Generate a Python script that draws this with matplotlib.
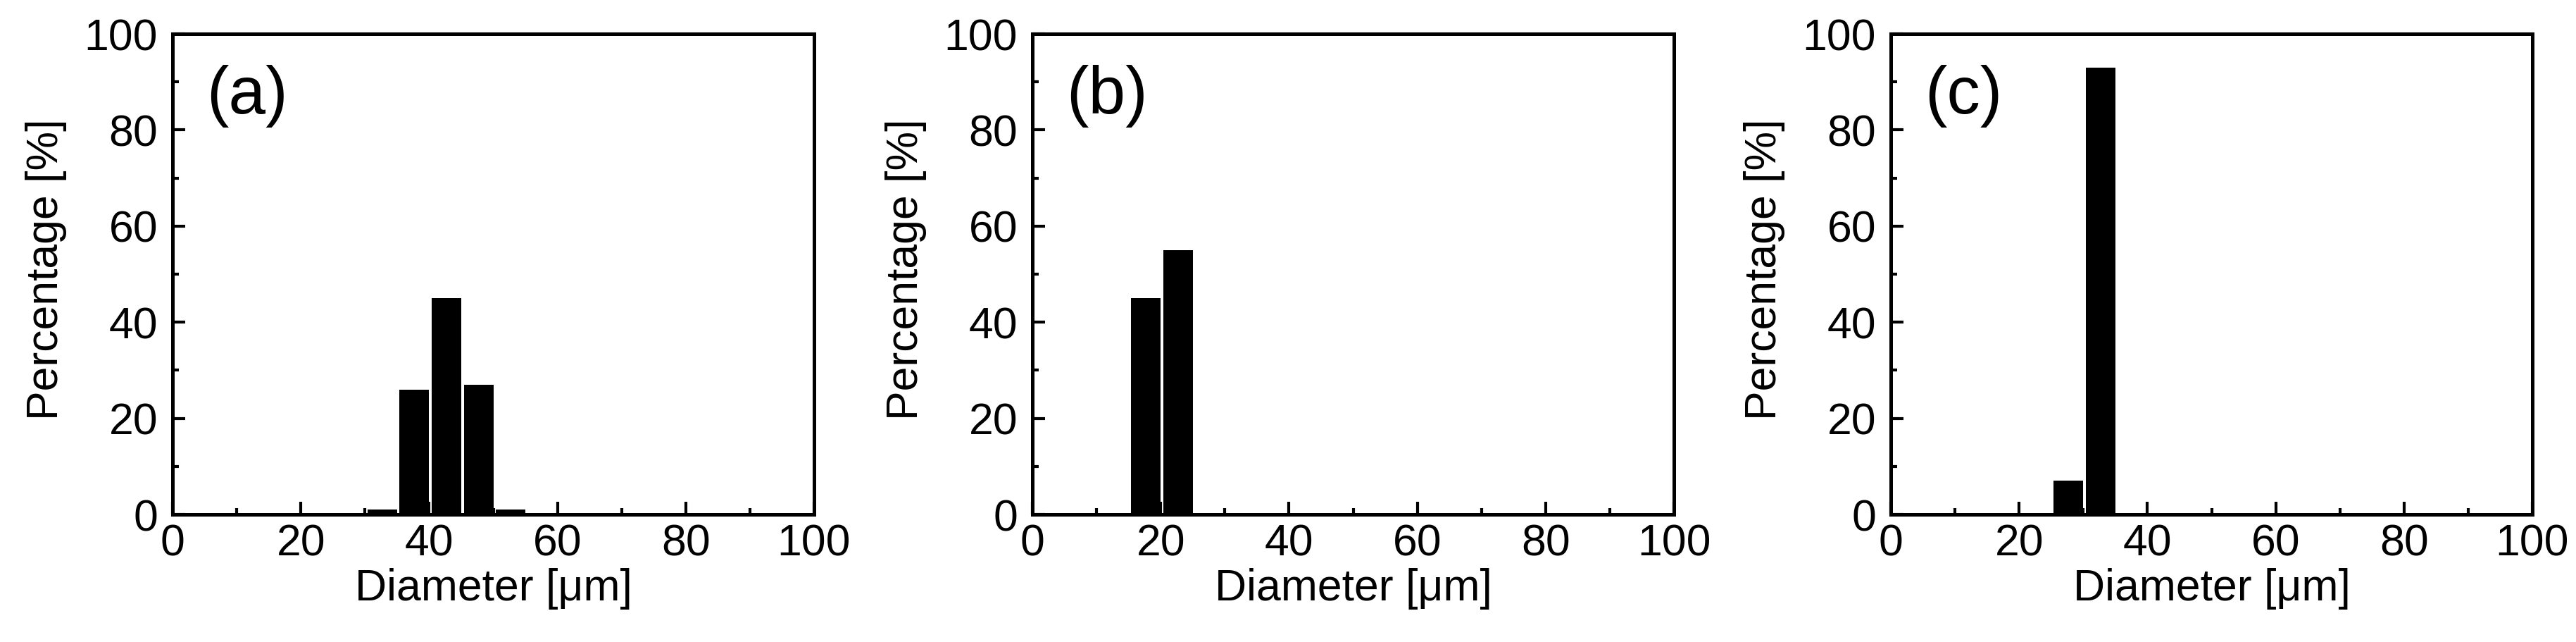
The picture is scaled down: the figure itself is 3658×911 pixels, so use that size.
import matplotlib
matplotlib.use("Agg")
import matplotlib.pyplot as plt
from matplotlib.ticker import MultipleLocator

plt.rcParams['font.family'] = ['Liberation Sans', 'DejaVu Sans']

# Data: bin left edges (µm, bin width 5) and percentages
panel_labels = ["(a)", "(b)", "(c)"]
edges_a = [30, 35, 40, 45, 50]
values_a = [1, 26, 45, 27, 1]
edges_b = [15, 20]
values_b = [45, 55]
edges_c = [25, 30]
values_c = [7, 93]
bin_width = 5

xlabel = "Diameter [\u03bcm]"
ylabel = "Percentage [%]"
xticks = [0, 20, 40, 60, 80, 100]
yticks = [0, 20, 40, 60, 80, 100]

W, H = 3658, 911
dpi = 100
fig = plt.figure(figsize=(W / dpi, H / dpi), dpi=dpi)

lefts_px = [245, 1466, 2685]
ax_w_px = 911
top_px, bot_px = 48, 730

datasets = [(edges_a, values_a), (edges_b, values_b), (edges_c, values_c)]

for i, (edges, vals) in enumerate(datasets):
    ax = fig.add_axes([lefts_px[i] / W, (H - bot_px) / H,
                       ax_w_px / W, (bot_px - top_px) / H])
    gap = 0.4
    ax.bar([e + gap for e in edges], vals, width=bin_width - gap,
           align='edge', color='black', edgecolor='none', zorder=1)
    ax.set_xlim(0, 100)
    ax.set_ylim(0, 100)
    ax.set_xticks(xticks)
    ax.set_yticks(yticks)
    ax.xaxis.set_minor_locator(MultipleLocator(10))
    ax.yaxis.set_minor_locator(MultipleLocator(10))
    for sp in ax.spines.values():
        sp.set_linewidth(3.6)
    ax.tick_params(which='both', direction='in', top=False, right=False,
                   labelsize=45, width=3.0)
    ax.tick_params(which='major', length=13)
    ax.tick_params(which='minor', length=6.5)
    ax.tick_params(axis='x', which='major', pad=9)
    ax.tick_params(axis='y', which='major', pad=15)
    ax.set_xlabel(xlabel, fontsize=45)
    ax.set_ylabel(ylabel, fontsize=45)
    ax.xaxis.set_label_coords(0.5, -0.111)
    ax.yaxis.set_label_coords(-0.1645, 0.51)
    ax.text(0.053, 0.935, panel_labels[i], transform=ax.transAxes,
            fontsize=68, ha='left', va='top')

fig.savefig("out.png", dpi=dpi)
